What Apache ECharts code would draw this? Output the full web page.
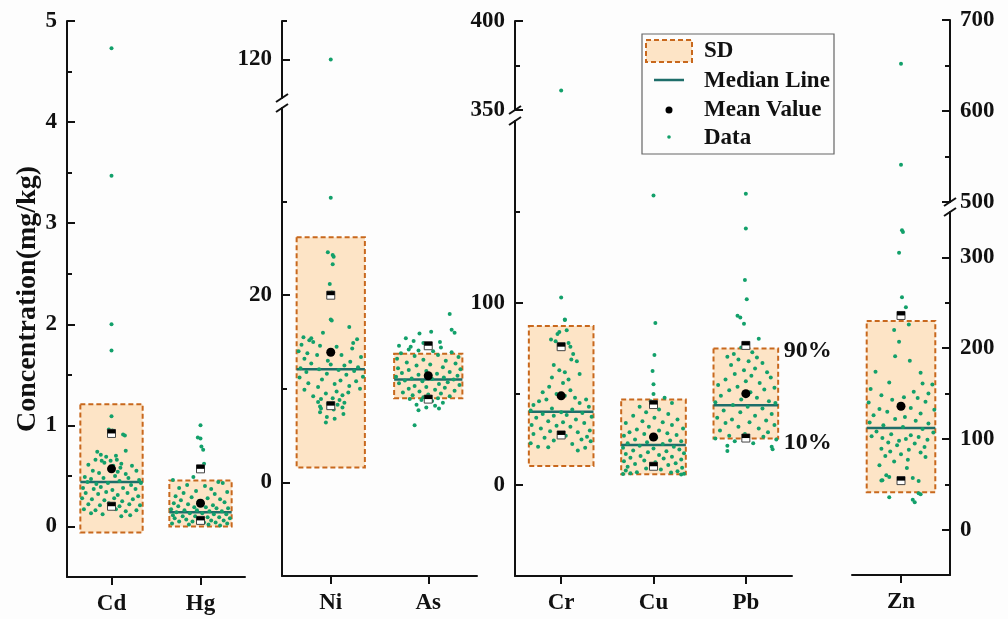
<!DOCTYPE html>
<html>
<head>
<meta charset="utf-8">
<script src="https://cdn.jsdelivr.net/npm/echarts@6/dist/echarts.min.js"></script>
<style>
  html, body { margin: 0; padding: 0; background: #fdfdfd; }
  #chart { width: 1008px; height: 619px; }
</style>
</head>
<body>
<div id="chart"></div>
<script>
// Element categories, in drawing order
const elements = ['Cd', 'Hg', 'Ni', 'As', 'Cr', 'Cu', 'Pb', 'Zn'];

// Summary statistics per element (mg/kg)
const means   = [0.57, 0.23, 13.9, 11.4, 49.0, 26.4, 50.2, 136];
const sdLow   = [-0.06, 0.00, 1.6, 9.0, 10.4, 5.9, 25.6, 41.3];   // mean - SD
const sdHigh  = [1.21, 0.455, 26.2, 13.75, 87.4, 47.0, 75.0, 230]; // mean + SD
const medians = [0.44, 0.14, 12.1, 11.0, 40.3, 22.0, 43.8, 112];
const p10     = [0.20, 0.06, 8.2, 8.9, 27.5, 10.3, 25.8, 54];
const p90     = [0.92, 0.57, 20.0, 14.6, 76.0, 44.2, 76.7, 236];
const p10Text = ['', '', '', '', '', '', '10%', ''];
const p90Text = ['', '', '', '', '', '', '90%', ''];

// Individual samples: [horizontal jitter within the category band, concentration]
const cdPts = [[0,4.73],[0,3.47],[0,2.00],[0,1.74],[0,1.09],[-0.03,0.96],[0.01,0.95],[0.13,0.91],[0.15,0.90],
  [-0.16,0.74],[-0.12,0.71],[-0.06,0.69],[0.05,0.70],[0.16,0.75],[-0.18,0.66],[-0.11,0.65],[-0.01,0.65],[0.06,0.66],[0.11,0.62],
  [-0.26,0.61],[-0.08,0.63],[0.02,0.60],[0.10,0.58],[0.23,0.60],[-0.21,0.55],[-0.14,0.53],[0.07,0.54],[0.16,0.52],[0.28,0.55],
  [-0.30,0.49],[-0.23,0.47],[-0.09,0.48],[0.04,0.50],[0.19,0.48],[0.31,0.46],[-0.27,0.44],[-0.17,0.42],[-0.04,0.43],[0.09,0.45],[0.22,0.41],[0.33,0.43],
  [-0.32,0.38],[-0.20,0.37],[-0.12,0.39],[0.01,0.36],[0.13,0.38],[0.27,0.37],[-0.29,0.33],[-0.15,0.32],[-0.06,0.34],[0.07,0.31],[0.18,0.33],[0.30,0.30],
  [-0.33,0.28],[-0.22,0.27],[-0.08,0.26],[0.03,0.28],[0.12,0.25],[0.24,0.27],[-0.26,0.22],[-0.13,0.21],[-0.03,0.23],[0.09,0.20],[0.20,0.22],[0.32,0.21],
  [-0.31,0.17],[-0.18,0.16],[0.05,0.17],[0.16,0.15],[0.28,0.16],[-0.23,0.13],[-0.10,0.12],[0.21,0.11],[0.11,0.10]];
const hgPts = [[0,1.00],[-0.03,0.88],[0.00,0.87],[0.01,0.79],[0.03,0.76],[0.04,0.62],[0.02,0.58],[-0.01,0.56],
  [-0.08,0.49],[-0.31,0.46],[0.20,0.44],[0.25,0.43],[-0.15,0.41],[0.05,0.40],[-0.24,0.38],[0.12,0.37],[-0.05,0.35],[0.30,0.34],[-0.19,0.33],
  [0.16,0.32],[-0.28,0.30],[-0.10,0.29],[0.08,0.28],[0.22,0.27],[-0.22,0.26],[-0.02,0.25],[0.27,0.24],[-0.30,0.23],[-0.14,0.22],[0.14,0.21],
  [-0.25,0.20],[-0.07,0.19],[0.06,0.19],[0.18,0.18],[0.31,0.18],[-0.33,0.17],[-0.18,0.16],[-0.04,0.16],[0.10,0.15],[0.24,0.15],
  [-0.27,0.14],[-0.12,0.13],[0.02,0.13],[0.15,0.12],[0.29,0.12],[-0.31,0.11],[-0.20,0.10],[-0.06,0.10],[0.08,0.09],[0.21,0.09],[0.33,0.08],
  [-0.29,0.08],[-0.16,0.07],[-0.01,0.07],[0.12,0.06],[0.26,0.06],[-0.24,0.05],[-0.09,0.05],[0.04,0.04],[0.17,0.04],[0.30,0.03],[-0.32,0.03],[-0.13,0.02],[0.09,0.02],[0.22,0.01]];
const niPts = [[0,120],[0,30.4],[-0.03,24.6],[0.02,24.3],[0.03,24.1],[0.02,23.3],[-0.01,21.2],[0.01,20.3],[0.00,19.8],[0.00,17.4],
  [0.01,17.3],[0.19,16.6],[-0.08,16.0],[-0.28,15.5],[-0.20,15.4],[-0.22,15.2],[0.27,15.3],[-0.18,15.0],[0.23,14.9],[-0.30,14.7],[-0.11,14.6],[0.06,14.5],[0.22,14.3],
  [-0.33,14.0],[-0.24,13.8],[-0.14,13.6],[0.11,13.6],[0.31,13.4],[-0.27,13.2],[-0.03,13.0],[0.20,12.9],[-0.20,12.7],[0.00,12.6],[0.14,12.5],[0.28,12.3],
  [-0.31,12.2],[-0.12,12.1],[0.08,12.0],[0.24,11.9],[-0.25,11.8],[-0.04,11.6],[0.16,11.5],[0.33,11.3],[-0.32,11.2],[-0.09,11.0],[0.10,10.9],[0.26,10.8],
  [-0.23,10.6],[0.04,10.5],[0.19,10.3],[-0.13,10.2],[0.30,10.0],[-0.27,9.9],[0.06,9.7],[0.18,9.6],[-0.05,9.5],[0.12,9.3],[-0.18,9.2],[0.02,9.0],[-0.10,8.9],
  [0.09,8.8],[-0.13,8.6],[0.14,8.5],[-0.03,8.4],[0.07,8.3],[-0.11,8.1],[0.12,8.0],[-0.10,7.9],[0.03,7.8],[-0.11,7.5],[0.13,7.3],[-0.04,7.0],[0.04,6.8],[-0.05,6.4]];
const asPts = [[0.22,18.0],[0.24,16.3],[0.27,16.0],[0.03,16.1],[-0.09,15.9],[-0.23,15.4],[-0.15,15.1],[0.12,15.0],[-0.05,14.9],
  [-0.30,14.6],[-0.18,14.5],[0.13,14.4],[-0.20,14.2],[-0.10,14.1],[0.05,14.0],[0.24,13.9],[-0.28,13.8],[0.10,13.6],[-0.14,13.5],[0.31,13.4],
  [-0.32,13.2],[-0.05,13.1],[0.18,13.0],[-0.22,12.8],[0.28,12.7],[0.02,12.6],[-0.12,12.5],[0.15,12.3],[-0.31,12.2],[0.33,12.1],
  [-0.20,12.0],[-0.02,11.9],[0.22,11.8],[-0.27,11.7],[0.09,11.6],[-0.10,11.5],[0.30,11.4],[-0.33,11.3],[0.16,11.2],[-0.17,11.1],[0.04,11.05],
  [0.26,11.0],[-0.24,10.9],[-0.06,10.8],[0.20,10.7],[-0.30,10.6],[0.11,10.5],[0.32,10.4],[-0.14,10.3],[-0.02,10.2],[0.17,10.1],
  [-0.20,10.0],[0.07,9.9],[0.27,9.8],[-0.09,9.7],[-0.26,9.6],[0.13,9.5],[0.00,9.4],[-0.16,9.3],[0.22,9.2],[-0.05,9.1],[0.10,9.0],
  [-0.19,8.9],[-0.07,8.8],[0.04,8.7],[0.15,8.5],[-0.12,8.3],[0.07,8.2],[-0.02,8.0],[0.11,7.9],[-0.10,7.7],[-0.14,6.1]];
const crPts = [[0,361],[0,103],[0.04,91],[0.04,90.6],[0.06,85],[-0.02,84],[-0.04,83],[-0.11,80],[-0.06,79],[0.08,78],[0.10,76],[-0.01,75],[0.13,72],[0.11,69],[0.17,68],
  [-0.08,66],[-0.02,63],[0.04,62],[0.20,61],[-0.10,59],[0.08,58],[0.02,56],[-0.13,54],[0.10,52],[-0.20,51],[-0.05,50],[0.04,49],[0.15,48],[0.27,47],
  [-0.16,47],[-0.24,46],[0.20,45],[-0.30,44],[0.30,43],[-0.10,42],[0.12,41.5],[-0.33,41],[0.00,40],[0.23,39.5],[-0.20,39],[0.06,38.5],[-0.08,38],[0.33,37.5],
  [-0.27,37],[0.16,36],[-0.14,35],[0.02,34.5],[0.25,34],[-0.32,33],[-0.05,32.5],[0.10,32],[-0.22,31],[0.31,30],[-0.12,29.5],[0.18,29],[-0.30,28],[0.05,27],[0.28,26.5],
  [-0.18,26],[0.22,25],[-0.08,24.5],[0.32,24],[-0.33,23],[0.12,22.5],[-0.25,21],[0.26,20.5],[0.18,19],[-0.14,20.8]];
const cuPts = [[0,159],[0.02,89],[0.01,71.4],[-0.01,62.6],[0.00,55.3],[0.00,50],[0.12,48],[-0.03,46],[0.20,45],[-0.15,43],[0.06,41.5],[-0.08,40],[0.16,39],
  [-0.22,38],[0.01,37],[0.26,36],[-0.12,35],[0.10,34.5],[-0.30,34],[0.20,33],[-0.05,32],[0.32,31],[-0.18,30.5],[0.06,30],[-0.26,29],[0.15,28.5],
  [-0.10,28],[0.25,27.5],[-0.32,27],[0.03,26],[-0.20,25],[0.18,24.5],[0.30,24],[-0.07,23.5],[-0.28,23],[0.10,22.5],[-0.15,21.5],[0.22,21],
  [-0.33,20.5],[0.00,20],[0.28,19.5],[-0.22,19],[0.14,18.5],[-0.06,18],[0.33,17.5],[-0.30,17],[0.06,16.5],[-0.14,16],[0.20,15.5],[-0.25,15],
  [0.11,14.5],[0.30,14],[-0.10,13.5],[-0.32,13],[0.02,12.5],[0.24,12],[-0.20,11.5],[0.16,11],[-0.28,10],[0.31,9.5],[-0.08,9],[0.08,8.5],
  [-0.30,8],[0.26,7.5],[-0.18,7],[0.19,6.8],[-0.25,6.5],[0.33,6.2],[-0.33,6],[0.30,5.8]];
const pbPts = [[0,160],[0,141],[-0.01,112.6],[0.01,102],[-0.09,93],[-0.06,92],[-0.02,88.6],[0.14,80.4],[-0.05,75.5],[0.07,73],[-0.13,72],[-0.20,70.5],
  [0.12,70],[-0.08,69],[0.03,68],[0.18,67],[-0.16,66],[0.10,64],[-0.02,63],[0.23,62],[-0.12,61],[0.06,60],[0.27,59],[-0.22,58],
  [0.00,57],[0.15,56],[-0.30,55],[-0.09,54],[0.31,53.5],[0.20,52.5],[-0.18,52],[0.05,51],[-0.27,49],[0.12,48],[-0.05,47],[0.25,46],
  [-0.33,45.5],[0.32,45],[-0.14,44],[0.02,43],[0.18,42],[-0.24,41],[-0.06,40],[0.28,39],[0.10,38],[-0.31,37],[-0.15,36],[0.22,35.5],
  [0.04,34.5],[-0.22,34],[0.31,33],[-0.08,32],[0.14,31],[-0.28,30],[0.24,29],[-0.01,28],[-0.18,27],[0.19,26.5],[-0.33,25.5],[0.33,25],
  [-0.12,24],[0.08,23],[-0.20,21.5],[0.28,21],[-0.20,18.7],[0.29,19.6]];
const znPts = [[0,652],[0,541],[0.01,330],[0.02,328],[-0.02,305],[0.01,256],[0.05,245],[0.00,238],[0.08,226],[-0.07,220],[-0.02,207],[-0.06,191],[0.09,186],
  [-0.26,174],[0.20,173],[-0.12,162],[0.22,161],[0.32,160],[-0.31,155],[0.13,152],[0.28,150],[-0.20,148],[0.03,146],[0.17,145],[-0.09,143],
  [0.25,141],[-0.33,140],[-0.02,138],[0.10,134],[-0.22,133],[0.34,132],[-0.14,130],[0.20,128],[-0.28,126],[0.04,124],[-0.06,122],[0.15,120],
  [-0.32,118],[0.28,117],[-0.18,115],[0.02,113],[0.22,111],[-0.25,108],[0.33,107],[-0.10,105],[0.10,104],[-0.30,103],[0.18,102],[-0.19,101],
  [0.05,100],[0.27,99],[-0.02,98],[-0.13,96],[0.14,95],[-0.04,93],[0.24,91],[-0.20,89],[0.08,88],[-0.11,86],[0.20,85],[0.00,83],[-0.16,81],
  [0.25,80],[0.07,77],[-0.07,75],[-0.22,71],[0.06,68],[-0.15,60],[-0.12,58],[0.12,57],[-0.19,54.5],[-0.20,54],[0.18,53.5],[0.18,40],[0.20,39],[-0.12,35.7],[0.12,32.8],[0.14,30.2]];
const samples = [cdPts, hgPts, niPts, asPts, crPts, cuPts, pbPts, znPts];

// Axis tick values for each axis segment
const cdHgMajor = [0, 1, 2, 3, 4, 5],      cdHgMinor = [0.5, 1.5, 2.5, 3.5, 4.5];
const niAsLowMajor = [0, 20],              niAsLowMinor = [10, 30];
const niAsHighMajor = [120],               niAsHighMinor = [125];
const crCuPbLowMajor = [0, 100],           crCuPbLowMinor = [50, 150];
const crCuPbHighMajor = [350, 400],        crCuPbHighMinor = [375];
const znLowMajor = [0, 100, 200, 300],     znLowMinor = [50, 150, 250];
const znHighMajor = [500, 600, 700],       znHighMinor = [550, 650];

// Styling
const FONT = '"Liberation Serif", "Times New Roman", serif';
const INK = '#111111';
const GREEN = '#12a06a';
const MEDIAN = '#1e6e6a';
const BOX_FILL = '#fde4c6';
const BOX_EDGE = '#c8681d';
const BOX_FRAC = 0.70;

// Panel layout: each panel has a lower segment and optionally an upper one above an axis break
const panels = [
  { cats: [0, 1], side: 'left',
    lower: { left: 67, top: 21, width: 178, height: 556, min: -0.5, max: 5, major: cdHgMajor, minor: cdHgMinor },
    upper: null },
  { cats: [2, 3], side: 'left',
    lower: { left: 282, top: 108, width: 195, height: 468, min: -10, max: 40, major: niAsLowMajor, minor: niAsLowMinor },
    upper: { left: 282, top: 21, width: 195, height: 77, min: 115, max: 125, major: niAsHighMajor, minor: niAsHighMinor } },
  { cats: [4, 5, 6], side: 'left',
    lower: { left: 515, top: 121, width: 277, height: 455, min: -50, max: 200, major: crCuPbLowMajor, minor: crCuPbLowMinor },
    upper: { left: 515, top: 21, width: 277, height: 89, min: 350, max: 400, major: crCuPbHighMajor, minor: crCuPbHighMinor } },
  { cats: [7], side: 'right',
    lower: { left: 852, top: 212, width: 98, height: 363, min: -50, max: 350, major: znLowMajor, minor: znLowMinor },
    upper: { left: 852, top: 20, width: 98, height: 182, min: 500, max: 700, major: znHighMajor, minor: znHighMinor } }
];

const textStyle = (size) => ({ fontFamily: FONT, fontWeight: 'bold', fontSize: size, color: INK });

const grids = [], xAxes = [], yAxes = [], series = [], graphics = [];

panels.forEach((p, pi) => {
  const segs = [{ seg: p.lower, lower: true }];
  if (p.upper) segs.push({ seg: p.upper, lower: false });

  segs.forEach(({ seg, lower }) => {
    const g = grids.length;
    grids.push({ left: seg.left, top: seg.top, width: seg.width, height: seg.height,
                 containLabel: false, outerBoundsMode: 'none' });

    const xCat = xAxes.length;
    xAxes.push({
      type: 'category', gridIndex: g, position: 'bottom', show: lower,
      data: p.cats.map(c => elements[c]), boundaryGap: true,
      axisLine: { show: true, onZero: false, lineStyle: { color: INK, width: 2 } },
      axisTick: { show: true, alignWithLabel: true, length: 8, lineStyle: { color: INK, width: 2 } },
      axisLabel: Object.assign({ margin: 16 }, textStyle(23)),
      splitLine: { show: false }
    });
    const xVal = xAxes.length;
    xAxes.push({ type: 'value', gridIndex: g, position: 'bottom', show: false,
                 min: -0.5, max: p.cats.length - 0.5 });

    const yMaj = yAxes.length;
    const yMajor = {
      type: 'value', gridIndex: g, position: p.side, min: seg.min, max: seg.max,
      axisLine: { show: true, onZero: false, lineStyle: { color: INK, width: 2 } },
      axisTick: { show: true, inside: true, length: 8, customValues: seg.major, lineStyle: { color: INK, width: 2 } },
      axisLabel: Object.assign({ show: true, customValues: seg.major, margin: 10 }, textStyle(23)),
      splitLine: { show: false }
    };
    if (pi === 0) {
      yMajor.name = 'Concentration(mg/kg)';
      yMajor.nameLocation = 'middle';
      yMajor.nameGap = 23;
      yMajor.nameTextStyle = textStyle(28);
    }
    yAxes.push(yMajor);
    yAxes.push({
      type: 'value', gridIndex: g, position: p.side, min: seg.min, max: seg.max,
      axisLine: { show: false, onZero: false },
      axisTick: { show: true, inside: true, length: 5, customValues: seg.minor, lineStyle: { color: INK, width: 2 } },
      axisLabel: { show: false },
      splitLine: { show: false }
    });

    // individual samples that fall inside this segment's range
    const pts = [];
    p.cats.forEach((c, i) => {
      samples[c].forEach(([dx, v]) => {
        if (v >= seg.min && v <= seg.max) pts.push([i + dx, v]);
      });
    });
    series.push({
      type: 'scatter', name: 'Data', xAxisIndex: xVal, yAxisIndex: yMaj,
      data: pts, symbol: 'circle', symbolSize: 4, silent: true,
      itemStyle: { color: GREEN, opacity: 1 }, z: 4
    });

    if (!lower) return;

    // mean ± SD boxes
    series.push({
      type: 'custom', name: 'SD', xAxisIndex: xCat, yAxisIndex: yMaj, z: 1, silent: true,
      data: p.cats.map((c, i) => [i, sdLow[c], sdHigh[c]]),
      renderItem: (params, api) => {
        const lo = api.coord([api.value(0), api.value(1)]);
        const hi = api.coord([api.value(0), api.value(2)]);
        const w = api.size([1, 0])[0] * BOX_FRAC;
        return { type: 'rect',
                 shape: { x: lo[0] - w / 2, y: hi[1], width: w, height: lo[1] - hi[1] },
                 style: { fill: BOX_FILL, stroke: BOX_EDGE, lineWidth: 2, lineDash: [5, 3] } };
      }
    });
    // median lines
    series.push({
      type: 'custom', name: 'Median Line', xAxisIndex: xCat, yAxisIndex: yMaj, z: 2, silent: true,
      data: p.cats.map((c, i) => [i, medians[c]]),
      renderItem: (params, api) => {
        const m = api.coord([api.value(0), api.value(1)]);
        const w = api.size([1, 0])[0] * BOX_FRAC;
        return { type: 'line',
                 shape: { x1: m[0] - w / 2, y1: m[1], x2: m[0] + w / 2, y2: m[1] },
                 style: { stroke: MEDIAN, lineWidth: 2.5 } };
      }
    });
    // 10th / 90th percentile markers
    const pctData = [], pctTags = [];
    p.cats.forEach((c, i) => {
      pctData.push([i, p10[c]]); pctTags.push(p10Text[c]);
      pctData.push([i, p90[c]]); pctTags.push(p90Text[c]);
    });
    series.push({
      type: 'custom', name: 'Percentile', xAxisIndex: xCat, yAxisIndex: yMaj, z: 5, silent: true,
      data: pctData,
      renderItem: (params, api) => {
        const c = api.coord([api.value(0), api.value(1)]);
        const s = 8;
        const children = [
          { type: 'rect', shape: { x: c[0] - s / 2, y: c[1] - s / 2, width: s, height: s },
            style: { fill: '#ffffff', stroke: '#444444', lineWidth: 1 } },
          { type: 'rect', shape: { x: c[0] - s / 2, y: c[1] - s / 2, width: s, height: s / 2 },
            style: { fill: '#000000' } }
        ];
        const tag = pctTags[params.dataIndex];
        if (tag) {
          children.push({ type: 'text', x: c[0] + 38, y: c[1] + 5,
            style: { text: tag, fill: INK, font: 'bold 24px ' + FONT, align: 'left', verticalAlign: 'middle' } });
        }
        return { type: 'group', children };
      }
    });
    // mean values
    series.push({
      type: 'scatter', name: 'Mean Value', xAxisIndex: xCat, yAxisIndex: yMaj, z: 6, silent: true,
      data: p.cats.map((c, i) => [i, means[c]]),
      symbol: 'circle', symbolSize: 9, itemStyle: { color: '#000000', opacity: 1 }
    });
  });

  // axis-break slashes
  if (p.upper) {
    const ax = p.side === 'left' ? p.lower.left : p.lower.left + p.lower.width;
    const yUp = p.upper.top + p.upper.height;
    const yLo = p.lower.top;
    [yUp, yLo].forEach(y => {
      graphics.push({ type: 'line', shape: { x1: ax - 6, y1: y + 4, x2: ax + 6, y2: y - 4 },
                      style: { stroke: INK, lineWidth: 2 }, z: 20 });
    });
  }
});

// Legend box
const LX = 642, LY = 34;
graphics.push(
  { type: 'rect', shape: { x: LX, y: LY, width: 192, height: 120 },
    style: { fill: '#fdfdfd', stroke: '#666666', lineWidth: 1.2 }, z: 30 },
  { type: 'rect', shape: { x: LX + 4, y: LY + 6, width: 46, height: 22 },
    style: { fill: BOX_FILL, stroke: BOX_EDGE, lineWidth: 2, lineDash: [5, 3] }, z: 31 },
  { type: 'line', shape: { x1: LX + 12, y1: LY + 46, x2: LX + 42, y2: LY + 46 },
    style: { stroke: MEDIAN, lineWidth: 2.5 }, z: 31 },
  { type: 'circle', shape: { cx: LX + 27, cy: LY + 76, r: 3.5 }, style: { fill: '#000000' }, z: 31 },
  { type: 'circle', shape: { cx: LX + 27, cy: LY + 103, r: 1.8 }, style: { fill: GREEN }, z: 31 }
);
[['SD', 17], ['Median Line', 47], ['Mean Value', 76], ['Data', 104]].forEach(([t, dy]) => {
  graphics.push({ type: 'text', x: LX + 62, y: LY + dy, z: 31,
    style: { text: t, fill: INK, font: 'bold 23px ' + FONT, align: 'left', verticalAlign: 'middle' } });
});

const chart = echarts.init(document.getElementById('chart'), null, { renderer: 'canvas' });
chart.setOption({
  backgroundColor: '#fdfdfd',
  animation: false,
  grid: grids,
  xAxis: xAxes,
  yAxis: yAxes,
  series: series,
  graphic: graphics
});
</script>
</body>
</html>
